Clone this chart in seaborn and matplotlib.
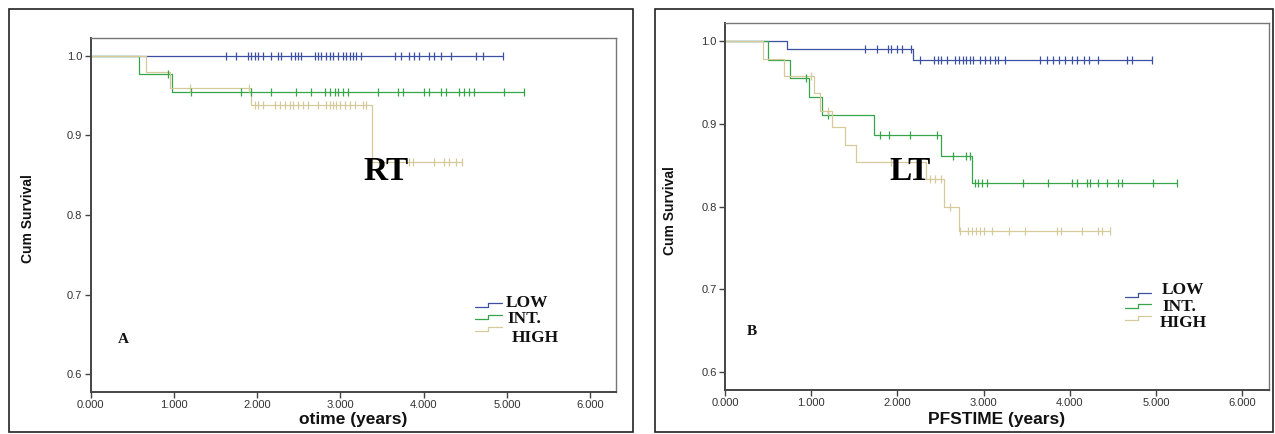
import numpy as np
import pandas as pd
import matplotlib
matplotlib.use("Agg")
import matplotlib.pyplot as plt
import seaborn as sns
from matplotlib.patches import Rectangle

# ==========================================
# 1. DATA
# ==========================================
groups = ["LOW", "INT.", "HIGH"]
colors = {"LOW": "#3b50a0", "INT.": "#35a548", "HIGH": "#d6c99a"}

# --- panel A : RT, overall time ---
rt_low_t = [0.0]
rt_low_s = [1.0]
rt_low_end = 4.95
rt_low_cens = [1.63, 1.75, 1.89, 1.93, 1.97, 2.01, 2.07, 2.17, 2.25, 2.29, 2.41, 2.45,
               2.49, 2.53, 2.69, 2.73, 2.77, 2.83, 2.87, 2.91, 2.97, 3.03, 3.07, 3.11,
               3.15, 3.19, 3.25, 3.65, 3.73, 3.83, 3.89, 3.95, 4.07, 4.13, 4.21, 4.33,
               4.63, 4.71, 4.95]

rt_int_t = [0.0, 0.58, 0.98]
rt_int_s = [1.0, 0.977, 0.955]
rt_int_end = 5.21
rt_int_cens = [0.93, 1.20, 1.81, 1.93, 2.17, 2.47, 2.65, 2.81, 2.87, 2.93, 2.97, 3.03,
               3.09, 3.45, 3.69, 3.75, 4.01, 4.07, 4.21, 4.27, 4.43, 4.49, 4.55, 4.61,
               4.97, 5.21]

rt_high_t = [0.0, 0.67, 0.95, 1.93, 3.38]
rt_high_s = [1.0, 0.98, 0.96, 0.938, 0.866]
rt_high_end = 4.46
rt_high_cens = [1.19, 1.90, 1.97, 2.01, 2.07, 2.21, 2.27, 2.33, 2.39, 2.43, 2.49, 2.55,
                2.61, 2.73, 2.83, 2.87, 2.91, 2.95, 2.99, 3.05, 3.11, 3.17, 3.27, 3.31,
                3.82, 3.87, 4.12, 4.24, 4.31, 4.39, 4.46]

# --- panel B : LT, PFS time ---
lt_low_t = [0.0, 0.72, 2.18]
lt_low_s = [1.0, 0.991, 0.978]
lt_low_end = 4.95
lt_low_cens = [1.62, 1.76, 1.89, 1.93, 1.99, 2.05, 2.16, 2.26, 2.42, 2.47, 2.51, 2.57,
               2.67, 2.71, 2.76, 2.80, 2.84, 2.88, 2.96, 3.02, 3.07, 3.13, 3.17, 3.25,
               3.65, 3.73, 3.81, 3.87, 3.94, 4.02, 4.08, 4.16, 4.22, 4.33, 4.66, 4.72,
               4.95]

lt_int_t = [0.0, 0.50, 0.76, 0.97, 1.12, 1.73, 2.51, 2.86]
lt_int_s = [1.0, 0.978, 0.956, 0.933, 0.911, 0.887, 0.861, 0.829]
lt_int_end = 5.24
lt_int_cens = [0.94, 1.20, 1.80, 1.90, 2.15, 2.46, 2.65, 2.80, 2.84, 2.90, 2.94, 2.98,
               3.04, 3.46, 3.75, 4.02, 4.08, 4.20, 4.23, 4.33, 4.43, 4.56, 4.60, 4.97,
               5.24]

lt_high_t = [0.0, 0.44, 0.68, 1.03, 1.10, 1.24, 1.39, 1.52, 2.33, 2.54, 2.71]
lt_high_s = [1.0, 0.979, 0.958, 0.937, 0.916, 0.896, 0.875, 0.854, 0.833, 0.80, 0.77]
lt_high_end = 4.47
lt_high_cens = [1.00, 1.20, 1.92, 2.38, 2.44, 2.51, 2.61, 2.73, 2.82, 2.87, 2.91, 2.96,
                3.01, 3.10, 3.29, 3.48, 3.85, 3.90, 4.14, 4.33, 4.37, 4.47]

y_ticks = [0.6, 0.7, 0.8, 0.9, 1.0]
x_ticks = [0, 1, 2, 3, 4, 5, 6]

panels = [
    dict(tag="RT", letter="A", xlabel="otime (years)",
         curves={"LOW": (rt_low_t, rt_low_s, rt_low_end, rt_low_cens),
                 "INT.": (rt_int_t, rt_int_s, rt_int_end, rt_int_cens),
                 "HIGH": (rt_high_t, rt_high_s, rt_high_end, rt_high_cens)}),
    dict(tag="LT", letter="B", xlabel="PFSTIME (years)",
         curves={"LOW": (lt_low_t, lt_low_s, lt_low_end, lt_low_cens),
                 "INT.": (lt_int_t, lt_int_s, lt_int_end, lt_int_cens),
                 "HIGH": (lt_high_t, lt_high_s, lt_high_end, lt_high_cens)}),
]


def km_frames(times, surv, end, cens, group):
    # step curve points + censor marks sitting on the curve
    t = list(times) + [end]
    s = list(surv) + [surv[-1]]
    line = pd.DataFrame({"time": t, "surv": s, "group": group})
    idx = np.searchsorted(times, cens, side="right") - 1
    marks = pd.DataFrame({"time": cens, "surv": np.array(surv)[idx], "group": group})
    return line, marks


# ==========================================
# 2. PLOT
# ==========================================
sns.set_theme(style="white")
plt.rcParams["font.family"] = ["Liberation Sans", "DejaVu Sans"]

fig = plt.figure(figsize=(12.75, 4.34), dpi=100)

# outer frames around each panel
fig.add_artist(Rectangle((9 / 1275, 2 / 434), 624 / 1275, 423 / 434, transform=fig.transFigure,
                         fill=False, edgecolor="#222222", lw=1.2))
fig.add_artist(Rectangle((655 / 1275, 2 / 434), 618 / 1275, 423 / 434, transform=fig.transFigure,
                         fill=False, edgecolor="#222222", lw=1.2))

ax_pos = [[0.0711, 0.0975, 0.412, 0.8143], [0.5686, 0.1014, 0.4267, 0.845]]
tag_xy = [(3.55, 0.855), (2.15, 0.843)]
letter_xy = [(0.39, 0.643), (0.31, 0.649)]
ylab_x = [-0.105, -0.088]
xlab_y = [-0.057, -0.06]
leg_icon = [dict(x0=0.731, x1=0.783, ys=[0.2455, 0.2117, 0.178]),
            dict(x0=0.735, x1=0.784, ys=[0.259, 0.2297, 0.196])]
leg_text = [dict(xs=[0.791, 0.794, 0.802], ys=[0.25, 0.205, 0.152]),
            dict(xs=[0.803, 0.805, 0.800], ys=[0.272, 0.2275, 0.182])]

for i, p in enumerate(panels):
    ax = fig.add_axes(ax_pos[i])
    lines, marks = [], []
    for g in groups:
        l, m = km_frames(*p["curves"][g], g)
        lines.append(l)
        marks.append(m)
    lines = pd.concat(lines)
    marks = pd.concat(marks)

    for g in groups:
        sns.lineplot(data=lines[lines.group == g], x="time", y="surv", color=colors[g],
                     estimator=None, sort=False, drawstyle="steps-post", lw=0.9, ax=ax)
        sns.scatterplot(data=marks[marks.group == g], x="time", y="surv", color=colors[g],
                        marker="|", s=30, linewidth=0.9, ax=ax, zorder=3)

    ax.set_xlim(0, 6.31)
    ax.set_ylim(0.578, 1.022)
    ax.set_xticks(x_ticks)
    ax.set_xticklabels([f"{v:.3f}" for v in x_ticks])
    ax.set_yticks(y_ticks)
    ax.set_yticklabels([f"{v:.1f}" for v in y_ticks])
    ax.tick_params(axis="both", direction="out", length=4, width=1, color="#444444",
                   labelsize=8, labelcolor="#333333", pad=2,
                   left=True, bottom=True)
    for side in ["left", "bottom"]:
        ax.spines[side].set_color("#444444")
        ax.spines[side].set_linewidth(1.4)
    for side in ["top", "right"]:
        ax.spines[side].set_color("#777777")
        ax.spines[side].set_linewidth(1.0)

    ax.set_xlabel(p["xlabel"], fontsize=12.5, fontweight="bold", color="#111111")
    ax.xaxis.set_label_coords(0.5, xlab_y[i])
    ax.set_ylabel("Cum Survival", fontsize=10, fontweight="bold", color="#111111")
    ax.yaxis.set_label_coords(ylab_x[i], 0.49)

    ax.text(*tag_xy[i], p["tag"], ha="center", va="center", fontsize=24, fontweight="bold",
            family=["Liberation Serif", "DejaVu Serif"], color="black")
    ax.text(*letter_xy[i], p["letter"], ha="center", va="center", fontsize=11, fontweight="bold",
            family=["Liberation Serif", "DejaVu Serif"], color="#111111")

    # SPSS-style step legend icons + labels
    li, lt = leg_icon[i], leg_text[i]
    xm = (li["x0"] + li["x1"]) / 2
    for g, yi, tx, ty in zip(groups, li["ys"], lt["xs"], lt["ys"]):
        ax.plot([li["x0"], xm, xm, li["x1"]], [yi - 0.005, yi - 0.005, yi + 0.005, yi + 0.005],
                color=colors[g], lw=0.9, transform=ax.transAxes)
        ax.text(tx, ty, g, transform=ax.transAxes, ha="left", va="center", fontsize=12.5,
                fontweight="bold", family=["Liberation Serif", "DejaVu Serif"], color="#111111")

    if ax.get_legend() is not None:
        ax.get_legend().remove()

fig.savefig("out.png", dpi=100)
